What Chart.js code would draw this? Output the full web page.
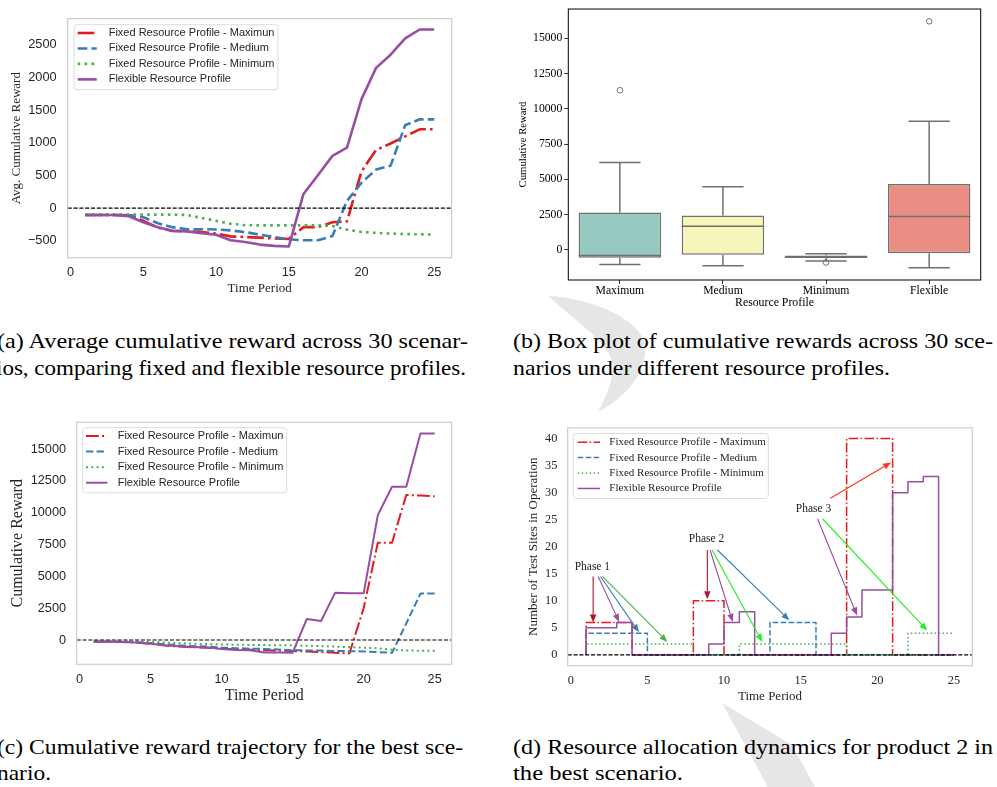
<!DOCTYPE html>
<html>
<head>
<meta charset="utf-8">
<script src="https://cdn.jsdelivr.net/npm/chart.js@4.4.1/dist/chart.umd.min.js"></script>
<style>
  html, body { margin: 0; padding: 0; background: #fff; }
  body { width: 997px; height: 787px; position: relative; overflow: hidden; }
  canvas { position: absolute; }
  #wm { position: absolute; left: 0; top: 0; }
  .cap { position: absolute; white-space: nowrap; font-family: "Liberation Serif", serif; font-size: 22px; line-height: 22px; color: #000; transform-origin: 0 50%; }
</style>
</head>
<body>
<svg id="wm" width="997" height="787">
  <path d="M 548 296 C 590 298, 640 318, 645 345 C 648 372, 625 398, 598 412 C 610 390, 618 368, 608 352 C 598 336, 575 320, 548 296 Z" fill="#e6e6e6"/>
  <path d="M 722 703 L 792 745 L 815 787 L 768 787 Z" fill="#e6e6e6"/>
</svg>
<canvas id="chart-a" width="470" height="305" style="left:0;top:0"></canvas>
<canvas id="chart-b" width="507" height="310" style="left:490px;top:0"></canvas>
<canvas id="chart-c" width="470" height="310" style="left:0;top:400px"></canvas>
<canvas id="chart-d" width="487" height="300" style="left:510px;top:410px"></canvas>

<span class="cap" data-w="471" style="left:-3px;top:330px">(a) Average cumulative reward across 30 scenar-</span>
<span class="cap" data-w="470" style="left:-4px;top:357px">ios, comparing fixed and flexible resource profiles.</span>
<span class="cap" data-w="480" style="left:513px;top:330px">(b) Box plot of cumulative rewards across 30 sce-</span>
<span class="cap" data-w="377" style="left:513px;top:357px">narios under different resource profiles.</span>
<span class="cap" data-w="466" style="left:-3px;top:736px">(c) Cumulative reward trajectory for the best sce-</span>
<span class="cap" data-w="54" style="left:-3px;top:762px">nario.</span>
<span class="cap" data-w="480" style="left:513px;top:736px">(d) Resource allocation dynamics for product 2 in</span>
<span class="cap" data-w="170" style="left:513px;top:762px">the best scenario.</span>

<script>
// ----------------------
// Data
// ----------------------
const periods = [1, 2, 3, 4, 5, 6, 7, 8, 9, 10, 11, 12, 13, 14, 15, 16, 17, 18, 19, 20, 21, 22, 23, 24, 25];
const timeTicks = [0, 5, 10, 15, 20, 25];

const labelsAC = [
  'Fixed Resource Profile - Maximun',
  'Fixed Resource Profile - Medium',
  'Fixed Resource Profile - Minimum',
  'Flexible Resource Profile'
];
const labelsD = [
  'Fixed Resource Profile - Maximum',
  'Fixed Resource Profile - Medium',
  'Fixed Resource Profile - Minimum',
  'Flexible Resource Profile'
];

// (a) average cumulative reward
const avgMaximum = [-105, -105, -105, -110, -195, -300, -350, -355, -365, -390, -433, -443, -453, -466, -473, -292, -292, -217, -202, 563, 890, 990, 1100, 1207, 1207];
const avgMedium = [-105, -105, -105, -105, -141, -232, -292, -323, -323, -328, -342, -367, -408, -443, -478, -493, -493, -428, 110, 390, 590, 650, 1270, 1360, 1360];
const avgMinimum = [-100, -100, -100, -100, -100, -100, -100, -105, -150, -195, -241, -262, -265, -265, -265, -265, -265, -275, -330, -365, -380, -390, -398, -402, -405];
const avgFlexible = [-105, -105, -105, -126, -217, -292, -347, -357, -383, -408, -493, -519, -559, -579, -589, 211, 503, 800, 925, 1670, 2148, 2350, 2600, 2736, 2736];
const avgTicks = [-500, 0, 500, 1000, 1500, 2000, 2500];

// (b) box plot of cumulative rewards
const boxProfiles = ['Maximum', 'Medium', 'Minimum', 'Flexible'];
const boxLow = [-1026, -1117, -775, -1254];
const boxQ1 = [-547, -342, -570, -228];
const boxMedian = [-388, 1687, -480, 2371];
const boxQ3 = [2645, 2440, -388, 4674];
const boxHigh = [6200, 4470, -274, 9120];
const outlierProfiles = ['Maximum', 'Minimum', 'Flexible'];
const outlierValues = [11310, -889, 16190];
const boxTicks = [0, 2500, 5000, 7500, 10000, 12500, 15000];

// (c) best scenario trajectory
const bestMaximum = [-130, -130, -150, -200, -300, -430, -520, -570, -600, -680, -720, -760, -800, -840, -870, -900, -950, -1000, -1050, 2500, 7650, 7650, 11400, 11350, 11300];
const bestMedium = [-130, -130, -140, -170, -240, -330, -420, -480, -520, -600, -640, -680, -700, -750, -800, -820, -830, -860, -880, -900, -950, -1000, 1300, 3650, 3650];
const bestMinimum = [-130, -130, -130, -140, -160, -200, -250, -290, -320, -350, -370, -390, -400, -410, -420, -450, -480, -520, -560, -600, -650, -760, -830, -840, -840];
const bestFlexible = [-130, -130, -150, -200, -300, -420, -500, -550, -580, -700, -780, -800, -980, -990, -1000, 1650, 1490, 3720, 3665, 3665, 9820, 12040, 12040, 16230, 16230];
const bestTicks = [0, 2500, 5000, 7500, 10000, 12500, 15000];

// (d) test sites in operation, product 2
const sitesMaximum = [0, 6, 6, 6, 0, 0, 0, 0, 10, 10, 0, 0, 0, 0, 0, 0, 0, 0, 40, 40, 40, 0, 0, 0, 0];
const sitesMedium = [0, 4, 4, 4, 4, 0, 0, 0, 0, 0, 0, 0, 0, 6, 6, 6, 0, 0, 0, 0, 0, 0, 0, 0, 0];
const sitesMinimum = [0, 2, 2, 2, 2, 2, 2, 2, 0, 0, 0, 2, 2, 2, 2, 2, 2, 2, 0, 0, 0, 0, 4, 4, 4];
const sitesFlexible = [0, 5, 5, 6, 0, 0, 0, 0, 0, 2, 6, 8, 0, 0, 0, 0, 0, 4, 7, 12, 12, 30, 32, 33, 0];
const sitesTicks = [0, 5, 10, 15, 20, 25, 30, 35, 40];

// annotation points, in data units of panel (d)
const phaseLabels = [
  { text: 'Phase 1', x: 1.41, y: 16.3 },
  { text: 'Phase 2', x: 8.86, y: 21.4 },
  { text: 'Phase 3', x: 15.84, y: 27.0 }
];
const phaseArrows = [
  { from: [1.46, 14.5], to: [1.46, 6.0], color: '#b3112e' },
  { from: [1.79, 14.5], to: [3.16, 6.1], color: '#984ea3' },
  { from: [1.94, 14.5], to: [4.45, 4.2], color: '#377eb8' },
  { from: [2.07, 14.5], to: [6.3, 2.4], color: '#4daf4a' },
  { from: [8.91, 19.4], to: [8.91, 10.3], color: '#b3112e' },
  { from: [9.09, 19.4], to: [10.57, 6.1], color: '#984ea3' },
  { from: [9.22, 19.4], to: [12.5, 2.4], color: '#22ee22' },
  { from: [9.57, 19.4], to: [14.26, 6.4], color: '#377eb8' },
  { from: [16.94, 28.95], to: [20.9, 35.6], color: '#ff3311' },
  { from: [16.11, 25.13], to: [18.68, 7.3], color: '#984ea3' },
  { from: [16.44, 25.13], to: [23.26, 4.5], color: '#22ee22' }
];

const RED = '#e41a1c', BLUE = '#377eb8', GREEN = '#4daf4a', PURPLE = '#984ea3';
const boxColors = ['#96cac1', '#f5f5bc', '#c1bed6', '#ea8d83'];
const boxGray = '#707070';

// ----------------------
// Helpers
// ----------------------
const pts = ys => periods.map((x, i) => ({ x, y: ys[i] }));
const minus = v => String(v).replace('-', '\u2212');
const plain = v => String(v);
const fixedTicks = values => scale => { scale.ticks = values.map(v => ({ value: v })); };

function lineSet(label, ys, color, dash, width, order, stepped) {
  return {
    label, data: pts(ys), borderColor: color, backgroundColor: color,
    borderDash: dash, borderWidth: width, pointRadius: 0, tension: 0,
    fill: false, order, stepped: stepped || false, borderJoinStyle: 'round'
  };
}

function dashes(lw) {
  return {
    dashdot: [6.4 * lw, 1.6 * lw, 1 * lw, 1.6 * lw],
    dashed: [3.7 * lw, 1.6 * lw],
    dotted: [1 * lw, 1.65 * lw]
  };
}

// ----------------------
// Plugins
// ----------------------
const framePlugin = {
  id: 'frame',
  afterDatasetsDraw(chart, args, o) {
    const { ctx, chartArea: a } = chart;
    ctx.save();
    ctx.strokeStyle = o.color;
    ctx.lineWidth = o.width;
    ctx.strokeRect(a.left, a.top, a.right - a.left, a.bottom - a.top);
    ctx.restore();
  }
};

const zeroLinePlugin = {
  id: 'zeroLine',
  afterDatasetsDraw(chart, args, o) {
    const { ctx, chartArea: a, scales: { y } } = chart;
    const py = y.getPixelForValue(0);
    ctx.save();
    ctx.strokeStyle = '#000';
    ctx.lineWidth = o.width;
    ctx.setLineDash([3.7 * o.width, 1.6 * o.width]);
    ctx.beginPath();
    ctx.moveTo(a.left, py);
    ctx.lineTo(a.right, py);
    ctx.stroke();
    ctx.restore();
  }
};

const legendPlugin = {
  id: 'boxLegend',
  afterDraw(chart, args, o) {
    const { ctx, chartArea: a } = chart;
    const x0 = a.left + o.dx, y0 = a.top + o.dy;
    ctx.save();
    ctx.fillStyle = 'rgba(255,255,255,0.85)';
    ctx.strokeStyle = o.edge;
    ctx.lineWidth = 1;
    ctx.beginPath();
    ctx.roundRect(x0, y0, o.w, o.h, 3);
    ctx.fill();
    ctx.stroke();
    ctx.font = o.font;
    ctx.textBaseline = 'middle';
    chart.data.datasets.forEach((ds, i) => {
      const y = y0 + o.first + i * o.gap;
      ctx.strokeStyle = ds.borderColor;
      ctx.lineWidth = ds.borderWidth;
      ctx.setLineDash(ds.borderDash || []);
      ctx.beginPath();
      ctx.moveTo(x0 + o.s0, y);
      ctx.lineTo(x0 + o.s1, y);
      ctx.stroke();
      ctx.setLineDash([]);
      ctx.fillStyle = o.color;
      ctx.fillText(ds.label, x0 + o.tx, y);
    });
    ctx.restore();
  }
};

const whiskerPlugin = {
  id: 'whiskers',
  afterDatasetsDraw(chart) {
    const { ctx, scales: { x, y } } = chart;
    const bars = chart.getDatasetMeta(0).data;
    ctx.save();
    ctx.strokeStyle = boxGray;
    ctx.lineWidth = 1.5;
    const seg = (x1, y1, x2, y2) => { ctx.beginPath(); ctx.moveTo(x1, y1); ctx.lineTo(x2, y2); ctx.stroke(); };
    boxProfiles.forEach((p, i) => {
      const cx = x.getPixelForValue(i);
      const w = bars[i].width;
      const hi = y.getPixelForValue(boxHigh[i]);
      const lo = y.getPixelForValue(boxLow[i]);
      seg(cx, y.getPixelForValue(boxQ3[i]), cx, hi);
      seg(cx, y.getPixelForValue(boxQ1[i]), cx, lo);
      seg(cx - w / 4, hi, cx + w / 4, hi);
      seg(cx - w / 4, lo, cx + w / 4, lo);
      const md = y.getPixelForValue(boxMedian[i]);
      seg(cx - w / 2, md, cx + w / 2, md);
    });
    ctx.restore();
  }
};

const phasePlugin = {
  id: 'phases',
  afterDatasetsDraw(chart) {
    const { ctx, scales: { x, y } } = chart;
    ctx.save();
    phaseArrows.forEach(a => {
      const x1 = x.getPixelForValue(a.from[0]), y1 = y.getPixelForValue(a.from[1]);
      const x2 = x.getPixelForValue(a.to[0]), y2 = y.getPixelForValue(a.to[1]);
      const ang = Math.atan2(y2 - y1, x2 - x1);
      const hl = 8, hw = 3.2;
      const bx = x2 - hl * Math.cos(ang), by = y2 - hl * Math.sin(ang);
      ctx.strokeStyle = a.color;
      ctx.fillStyle = a.color;
      ctx.lineWidth = 1.1;
      ctx.beginPath();
      ctx.moveTo(x1, y1);
      ctx.lineTo(bx, by);
      ctx.stroke();
      ctx.beginPath();
      ctx.moveTo(x2, y2);
      ctx.lineTo(bx + hw * Math.sin(ang), by - hw * Math.cos(ang));
      ctx.lineTo(bx - hw * Math.sin(ang), by + hw * Math.cos(ang));
      ctx.closePath();
      ctx.fill();
    });
    ctx.font = '11.5px "Liberation Serif"';
    ctx.fillStyle = '#222';
    ctx.textAlign = 'center';
    ctx.textBaseline = 'middle';
    phaseLabels.forEach(l => ctx.fillText(l.text, x.getPixelForValue(l.x), y.getPixelForValue(l.y)));
    ctx.restore();
  }
};

// ----------------------
// Shared axis config
// ----------------------
function timeAxis(height, fontCss, tickPad, title, titlePad, color) {
  return {
    type: 'linear', min: -0.2, max: 26.2,
    afterBuildTicks: fixedTicks(timeTicks),
    afterFit: s => { s.height = height; },
    grid: { display: false, drawTicks: false },
    border: { display: false },
    ticks: { autoSkip: false, maxRotation: 0, padding: tickPad, color, font: fontCss, callback: plain },
    title: { display: true, text: title.text, color, font: title.font, padding: titlePad }
  };
}

function valueAxis(min, max, ticks, width, fontCss, tickPad, title, titlePad, color, fmt) {
  return {
    type: 'linear', min, max,
    afterBuildTicks: fixedTicks(ticks),
    afterFit: s => { s.width = width; },
    grid: { display: false, drawTicks: false },
    border: { display: false },
    ticks: { autoSkip: false, padding: tickPad, color, font: fontCss, callback: fmt || plain },
    title: { display: true, text: title.text, color, font: title.font, padding: titlePad }
  };
}

const sansTick = { family: '"Liberation Sans", Arial, sans-serif', size: 12.8 };
const serif = size => ({ family: '"Liberation Serif", "Times New Roman", serif', size });
const darkText = '#262626';

Chart.defaults.animation = false;
Chart.defaults.responsive = false;
Chart.defaults.devicePixelRatio = 1;
Chart.defaults.plugins.legend.display = false;
Chart.defaults.plugins.tooltip.enabled = false;

// ----------------------
// (a) Average cumulative reward
// ----------------------
const dA = dashes(2.6);
new Chart(document.getElementById('chart-a'), {
  type: 'line',
  data: {
    datasets: [
      lineSet(labelsAC[0], avgMaximum, RED, dA.dashdot, 2.6, 4),
      lineSet(labelsAC[1], avgMedium, BLUE, dA.dashed, 2.6, 3),
      lineSet(labelsAC[2], avgMinimum, GREEN, dA.dotted, 2.6, 2),
      lineSet(labelsAC[3], avgFlexible, PURPLE, [], 2.6, 1)
    ]
  },
  options: {
    layout: { padding: { top: 15, right: 18.3, left: 0, bottom: 0 } },
    scales: {
      x: timeAxis(47.3, sansTick, 7.3, { text: 'Time Period', font: serif(13) }, 8.2, darkText),
      y: valueAxis(-760, 2902, avgTicks, 67.7, sansTick, 11, { text: 'Avg. Cumulative Reward', font: serif(13) }, 9.2, darkText, minus)
    },
    plugins: {
      frame: { color: '#cccccc', width: 1.2 },
      zeroLine: { width: 1.1 },
      boxLegend: { dx: 6.3, dy: 6, w: 204, h: 65, first: 8.3, gap: 15.47, s0: 3.7, s1: 22.7, tx: 34.7, font: '11px "Liberation Sans"', color: darkText, edge: '#dddddd' }
    }
  },
  plugins: [zeroLinePlugin, framePlugin, legendPlugin]
});

// ----------------------
// (b) Box plot
// ----------------------
new Chart(document.getElementById('chart-b'), {
  type: 'bar',
  data: {
    labels: boxProfiles,
    datasets: [
      {
        data: boxProfiles.map((p, i) => [boxQ1[i], boxQ3[i]]),
        backgroundColor: boxColors, borderColor: boxGray, borderWidth: 1.5,
        borderSkipped: false, barPercentage: 0.8, categoryPercentage: 1.0
      },
      {
        type: 'scatter',
        data: outlierProfiles.map((p, i) => ({ x: p, y: outlierValues[i] })),
        pointRadius: 2.8, pointBorderWidth: 1, pointBorderColor: boxGray, pointBackgroundColor: '#fff'
      }
    ]
  },
  options: {
    layout: { padding: { top: 0, right: 16.3, left: 0, bottom: 0 } },
    scales: {
      x: {
        type: 'category', offset: true,
        afterFit: s => { s.height = 30; },
        grid: { display: true, drawOnChartArea: false, drawTicks: true, tickLength: 4, offset: false, color: '#000', lineWidth: 0.8 },
        border: { display: false },
        ticks: { padding: 0, color: '#000', font: serif(11.7) },
        title: { display: true, text: 'Resource Profile', color: '#000', font: serif(11.8), padding: 0.2 }
      },
      y: {
        type: 'linear', min: -2126, max: 17062,
        afterBuildTicks: fixedTicks(boxTicks),
        afterFit: s => { s.width = 78.3; },
        grid: { display: true, drawOnChartArea: false, drawTicks: true, tickLength: 4, color: '#000', lineWidth: 0.8 },
        border: { display: false },
        ticks: { autoSkip: false, padding: 2, color: '#000', font: serif(11.7), callback: plain },
        title: { display: true, text: 'Cumulative Reward', color: '#000', font: serif(10.7), padding: 26.6 }
      }
    },
    plugins: { frame: { color: '#000', width: 1 } }
  },
  plugins: [whiskerPlugin, framePlugin]
});

// ----------------------
// (c) Best scenario trajectory
// ----------------------
const dC = dashes(2);
new Chart(document.getElementById('chart-c'), {
  type: 'line',
  data: {
    datasets: [
      lineSet(labelsAC[0], bestMaximum, RED, dC.dashdot, 2, 4),
      lineSet(labelsAC[1], bestMedium, BLUE, dC.dashed, 2, 3),
      lineSet(labelsAC[2], bestMinimum, GREEN, dC.dotted, 2, 2),
      lineSet(labelsAC[3], bestFlexible, PURPLE, [], 2, 1)
    ]
  },
  options: {
    layout: { padding: { top: 22.3, right: 18.3, left: 0, bottom: 0 } },
    scales: {
      x: timeAxis(45.7, { family: sansTick.family, size: 12.7 }, 7.1, { text: 'Time Period', font: serif(16) }, 4.4, darkText),
      y: valueAxis(-1910, 17110, bestTicks, 76.7, { family: sansTick.family, size: 12.7 }, 10.7, { text: 'Cumulative Reward', font: serif(16) }, 8.4, darkText)
    },
    plugins: {
      frame: { color: '#cccccc', width: 1.2 },
      zeroLine: { width: 1.1 },
      boxLegend: { dx: 6, dy: 5.4, w: 204, h: 65, first: 8.3, gap: 15.57, s0: 3.3, s1: 24.6, tx: 35, font: '11px "Liberation Sans"', color: darkText, edge: '#dddddd' }
    }
  },
  plugins: [zeroLinePlugin, framePlugin, legendPlugin]
});

// ----------------------
// (d) Resource allocation dynamics
// ----------------------
const dD = dashes(1.5);
new Chart(document.getElementById('chart-d'), {
  type: 'line',
  data: {
    datasets: [
      lineSet(labelsD[0], sitesMaximum, RED, dD.dashdot, 1.5, 4, 'after'),
      lineSet(labelsD[1], sitesMedium, BLUE, dD.dashed, 1.5, 3, 'after'),
      lineSet(labelsD[2], sitesMinimum, GREEN, dD.dotted, 1.5, 2, 'after'),
      lineSet(labelsD[3], sitesFlexible, PURPLE, [], 1.5, 1, 'after')
    ]
  },
  options: {
    layout: { padding: { top: 9.3, right: 24.7, left: 0, bottom: 0 } },
    scales: {
      x: timeAxis(44.3, serif(12.3), 7.6, { text: 'Time Period', font: serif(13) }, 5.5, darkText),
      y: valueAxis(-2, 42, sitesTicks, 57.7, serif(12.3), 10.4, { text: 'Number of Test Sites in Operation', font: serif(13) }, 15.5, darkText)
    },
    plugins: {
      frame: { color: '#cccccc', width: 1.2 },
      zeroLine: { width: 1.1 },
      boxLegend: { dx: 5.6, dy: 5.7, w: 195, h: 65, first: 8.7, gap: 15.43, s0: 4.4, s1: 26.7, tx: 36, font: '11px "Liberation Serif"', color: darkText, edge: '#dddddd' }
    }
  },
  plugins: [phasePlugin, zeroLinePlugin, framePlugin, legendPlugin]
});

// ----------------------
// Captions: stretch each line to its measured width
// ----------------------
document.querySelectorAll('.cap').forEach(el => {
  const target = parseFloat(el.dataset.w);
  const natural = el.getBoundingClientRect().width;
  el.style.transform = `scaleX(${target / natural})`;
});
</script>
</body>
</html>
